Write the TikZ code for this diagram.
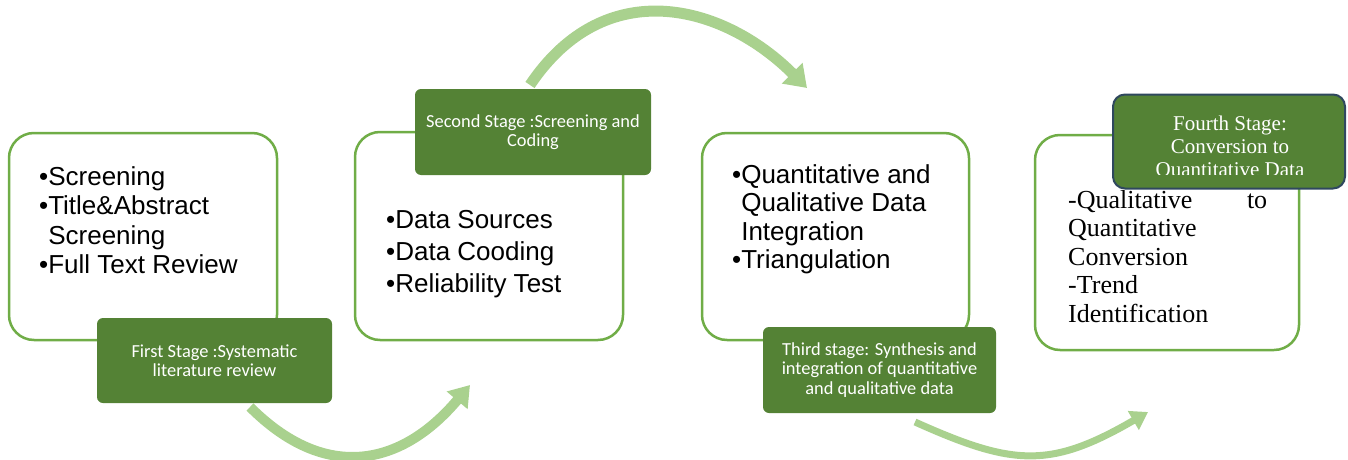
\documentclass[tikz,border=0pt]{standalone}
\usepackage{fontspec}
\setmainfont{Liberation Sans}
\newfontfamily\stagefont{Carlito}
\newfontfamily\romfont{Liberation Serif}
\usetikzlibrary{arrows.meta}
\definecolor{boxgreen}{RGB}{112,173,71}
\definecolor{stagegreen}{RGB}{84,130,53}
\definecolor{arrowgreen}{RGB}{169,209,142}
\definecolor{stageedge}{RGB}{47,72,94}

\begin{document}
\begin{tikzpicture}[x=1pt,y=-1pt,
    stepbox/.style={draw=boxgreen,line width=2.5pt,fill=white,rounded corners=25pt},
    stage/.style={fill=stagegreen,rounded corners=6pt,text=white,align=center,inner sep=0pt,
      font=\stagefont\fontsize{18.4}{19.5}\selectfont},
    items/.style={anchor=base west,align=left,inner sep=0pt},
    flow/.style={arrowgreen,line width=10pt}]
    \useasboundingbox (0,0) rectangle (1348,460);

    % frecce
    \coordinate (a1s) at (250,407);
    \coordinate (a1e) at (470,385);
    \draw[flow,-{Triangle[length=20pt,width=26pt]}] (a1s) .. controls (325,482) and (401,467) .. (a1e);
    \coordinate (a2s) at (530,85);
    \coordinate (a2e) at (807,88);
    \draw[flow,line width=11pt,-{Triangle[length=21pt,width=28pt]}] (a2s) .. controls (605,-27) and (723,4) .. (a2e);
    \coordinate (a3s) at (915,422);
    \coordinate (a3e) at (1148,412);
    \draw[flow,line width=7pt,-{Triangle[length=17pt,width=21pt]}] (a3s) .. controls (1013,466) and (1050,469) .. (a3e);

    % riquadri
    \node[stepbox,minimum width=268pt,minimum height=207pt] (b1) at (143,236.5) {};
    \node[stepbox,minimum width=268pt,minimum height=208pt] (b2) at (489,236) {};
    \node[stepbox,minimum width=267pt,minimum height=207pt] (b3) at (835.5,236.5) {};
    \node[stepbox,minimum width=264pt,minimum height=215pt] (b4) at (1167,242.5) {};

    % elenchi (base = ultima riga)
    \node[items,font=\fontsize{26}{29.5}\selectfont] (t1) at (39,273.5)
      {•Screening\\•Title\&Abstract\\\phantom{•}Screening\\•Full Text Review};
    \node[items,font=\fontsize{26}{32}\selectfont] (t2) at (386,292)
      {•Data Sources\\•Data Cooding\\•Reliability Test};
    \node[items,font=\fontsize{26}{28.5}\selectfont] (t3) at (732,268.5)
      {•Quantitative and\\\phantom{•}Qualitative Data\\\phantom{•}Integration\\•Triangulation};
    % con text width la base e' la prima riga
    \node[items,text width=199pt,font=\romfont\fontsize{26}{28.5}\selectfont] (t4) at (1068,208)
      {-Qualitative\hfill to\\Quantitative\\Conversion\\-Trend\\Identification};

    % etichette
    \node[stage,minimum width=235pt,minimum height=85pt] (l1) at (214.5,360.5)
      {First Stage :Systematic\\literature review};
    \node[stage,minimum width=236pt,minimum height=86pt] (l2) at (533,132)
      {Second Stage :Screening and\\Coding};
    \node[stage,minimum width=233pt,minimum height=86pt] (l3) at (879.5,370)
      {Third stage: Synthesis and\\integration of quantitative\\and qualitative data};
    \node[stage,draw=stageedge,line width=2pt,rounded corners=12pt,minimum width=232pt,minimum height=94pt] (l4) at (1229,141.5) {};
    \begin{scope}
      \clip (1114,95) rectangle (1344,174);
      \node[anchor=base,align=center,inner sep=0pt,text=white,font=\romfont\fontsize{21}{23}\selectfont] (t5) at (1230,176)
        {Fourth Stage:\\Conversion to\\Quantitative Data};
    \end{scope}
\end{tikzpicture}
\end{document}
